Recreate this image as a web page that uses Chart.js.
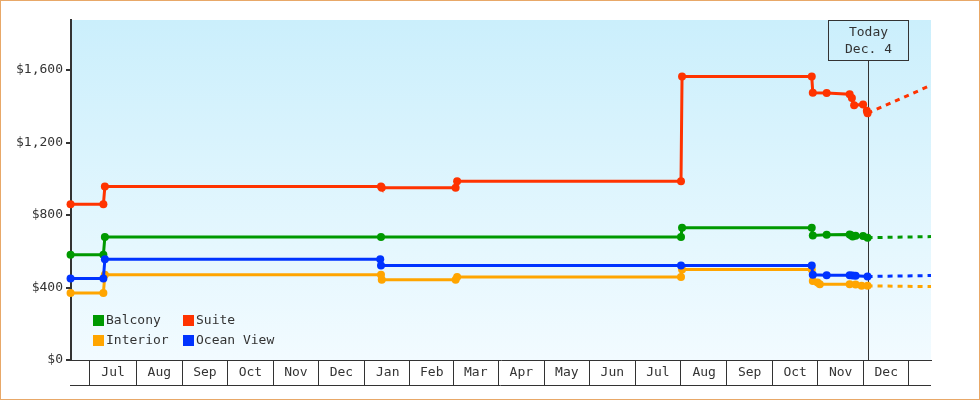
<!DOCTYPE html>
<html><head><meta charset="utf-8">
<script src="https://cdn.jsdelivr.net/npm/chart.js@4/dist/chart.umd.min.js"></script>
<style>
html,body{margin:0;padding:0;background:#fff;}
#wrap{width:980px;height:400px;box-sizing:border-box;border:1px solid #e8a868;background:#fff;}
canvas{display:block;}
</style></head><body>
<div id="wrap"><canvas id="c" width="978" height="398"></canvas></div>
<script>
// Day 0 = Jul 1 of the first year
const monthNames = ['Jul','Aug','Sep','Oct','Nov','Dec','Jan','Feb','Mar','Apr','May','Jun','Jul','Aug','Sep','Oct','Nov','Dec'];
const monthDays  = [31,31,30,31,30,31,31,28,31,30,31,30,31,31,30,31,30,31];
const todayDay = 521;
const todayLabel = ['Today', 'Dec. 4'];
const xMin = -12.7, xMax = 563.5;
const yMin = 0, yMax = 1876;
const yTicks = [0, 400, 800, 1200, 1600];

const seriesNames  = ['Balcony', 'Suite', 'Interior', 'Ocean View'];
const seriesColors = ['#009900', '#ff3300', '#ffa500', '#0033ff'];

const balconyDays   = [-13, 9, 10, 195, 396, 396.7, 483.6, 484.3, 493.6, 509, 510, 511, 513, 518, 521];
const balconyPrices = [581, 581, 679, 679, 679, 730, 730, 687, 691, 692, 688, 681, 685, 684, 675];

const suiteDays   = [-13, 9, 10, 195, 195.5, 245, 246, 396, 396.7, 483.6, 484.3, 493.6, 509, 510.5, 512, 518, 520.5, 521];
const suitePrices = [859, 859, 957, 957, 950, 950, 986, 986, 1564, 1564, 1475, 1473, 1466, 1445, 1405, 1410, 1375, 1362];

const interiorDays   = [-13, 9, 10, 195, 195.5, 245, 246, 396, 396.7, 483.6, 484.3, 487.5, 489, 509, 513, 517, 521];
const interiorPrices = [370, 370, 471, 471, 443, 443, 458, 458, 499, 499, 436, 427, 418, 418, 416, 409, 409];

const oceanDays   = [-13, 9, 10, 194.5, 195, 396, 483.6, 484.3, 493.6, 509, 511, 513, 521];
const oceanPrices = [449, 449, 556, 556, 522, 522, 522, 470, 467, 467, 466, 465, 461];

const projDays = [521, 563.5];
const balconyProj  = [675, 681];
const suiteProj    = [1362, 1516];
const interiorProj = [409, 405];
const oceanProj    = [461, 466];

const FONT = {family: "'DejaVu Sans Mono', monospace", size: 13};
const TXT = '#333333';

function pts(days, vals) { return days.map((d, i) => ({x: d, y: vals[i]})); }

// month mid-points as tick values
const monthMids = [];
(function(){ let s = 0; for (let i = 0; i < monthDays.length; i++) { monthMids.push(s + monthDays[i] / 2); s += monthDays[i]; } })();

const histSets = [
  [balconyDays, balconyPrices, 0, 2],
  [suiteDays, suitePrices, 1, 3],
  [interiorDays, interiorPrices, 2, 1],
  [oceanDays, oceanPrices, 3, 0]
].map(([d, v, ci, ord]) => ({
  label: seriesNames[ci],
  data: pts(d, v),
  borderColor: seriesColors[ci],
  backgroundColor: seriesColors[ci],
  pointBackgroundColor: seriesColors[ci],
  pointBorderColor: seriesColors[ci],
  borderWidth: 3,
  pointRadius: 4,
  pointBorderWidth: 0,
  tension: 0,
  clip: false,
  order: ord
}));

const projSets = [
  [balconyProj, 0], [suiteProj, 1], [interiorProj, 2], [oceanProj, 3]
].map(([v, ci]) => ({
  label: seriesNames[ci] + ' projection',
  data: pts(projDays, v),
  borderColor: seriesColors[ci],
  borderWidth: 3,
  borderDash: [5, 5],
  pointRadius: 0,
  tension: 0,
  clip: false,
  order: 5
}));

const decorPlugin = {
  id: 'decor',
  beforeDraw(chart) {
    const {ctx, chartArea: a} = chart;
    ctx.save();
    ctx.fillStyle = '#ffffff';
    ctx.fillRect(0, 0, chart.width, chart.height);
    const g = ctx.createLinearGradient(0, a.top, 0, a.bottom);
    g.addColorStop(0, '#cbeffc');
    g.addColorStop(1, '#f2fbff');
    ctx.fillStyle = g;
    ctx.fillRect(a.left, a.top, a.right - a.left, a.bottom - a.top);
    ctx.restore();
  },
  beforeDatasetsDraw(chart) {
    const {ctx, chartArea: a, scales} = chart;
    const x = Math.round(scales.x.getPixelForValue(todayDay)) + 0.5;
    ctx.save();
    ctx.strokeStyle = '#333333';
    ctx.lineWidth = 1;
    const bw = 80, bh = 40;
    ctx.strokeRect(Math.round(x - bw / 2) - 0.5, a.top + 0.5, bw, bh);
    ctx.beginPath();
    ctx.moveTo(x, a.top + bh + 0.5);
    ctx.lineTo(x, a.bottom);
    ctx.stroke();
    ctx.fillStyle = TXT;
    ctx.font = "13px 'DejaVu Sans Mono', monospace";
    ctx.textAlign = 'center';
    ctx.textBaseline = 'middle';
    ctx.fillText(todayLabel[0], x, a.top + 13);
    ctx.fillText(todayLabel[1], x, a.top + 30);
    ctx.restore();
  },
  afterDraw(chart) {
    const {ctx, chartArea: a, scales} = chart;
    ctx.save();
    const yb = Math.round(scales.x.top + 25) + 0.5;
    ctx.strokeStyle = '#333333';
    ctx.lineWidth = 1;
    ctx.beginPath();
    ctx.moveTo(a.left - 1, yb);
    ctx.lineTo(a.right, yb);
    ctx.stroke();
    ctx.font = "13px 'DejaVu Sans Mono', monospace";
    ctx.textBaseline = 'middle';
    ctx.textAlign = 'left';
    const cols = [a.left + 22, a.left + 112];
    const rows = [a.bottom - 40, a.bottom - 20];
    seriesNames.forEach((name, i) => {
      const cx = cols[i % 2], cy = rows[Math.floor(i / 2)];
      ctx.fillStyle = seriesColors[i];
      ctx.fillRect(cx, cy - 5, 11, 11);
      ctx.fillStyle = TXT;
      ctx.fillText(name, cx + 13, cy + 1);
    });
    ctx.restore();
  }
};

new Chart(document.getElementById('c'), {
  type: 'line',
  data: { datasets: [...histSets, ...projSets] },
  options: {
    responsive: false,
    animation: false,
    devicePixelRatio: 1,
    layout: { padding: { top: 19, right: 48, left: 0, bottom: 0 } },
    plugins: { legend: { display: false }, tooltip: { enabled: false } },
    scales: {
      x: {
        type: 'linear',
        min: xMin, max: xMax,
        afterBuildTicks: s => { s.ticks = monthMids.map(v => ({value: v})); },
        afterFit: s => { s.height = 39; },
        grid: { offset: true, drawOnChartArea: false, drawTicks: true, tickLength: 25, color: '#333333', lineWidth: 1 },
        border: { display: true, color: '#333333', width: 1 },
        ticks: {
          autoSkip: false, maxRotation: 0, minRotation: 0,
          padding: -20, font: FONT, color: TXT,
          callback: (v, i) => monthNames[i]
        }
      },
      y: {
        type: 'linear',
        min: yMin, max: yMax,
        afterBuildTicks: s => { s.ticks = yTicks.map(v => ({value: v})); },
        afterFit: s => { s.width = 70; },
        grid: { drawOnChartArea: false, drawTicks: true, tickLength: 5, color: '#333333', lineWidth: 2 },
        border: { display: true, color: '#333333', width: 2 },
        ticks: {
          padding: 3, font: FONT, color: TXT,
          callback: v => '$' + Number(v).toLocaleString('en-US')
        }
      }
    }
  },
  plugins: [decorPlugin]
});
</script>
</body></html>
